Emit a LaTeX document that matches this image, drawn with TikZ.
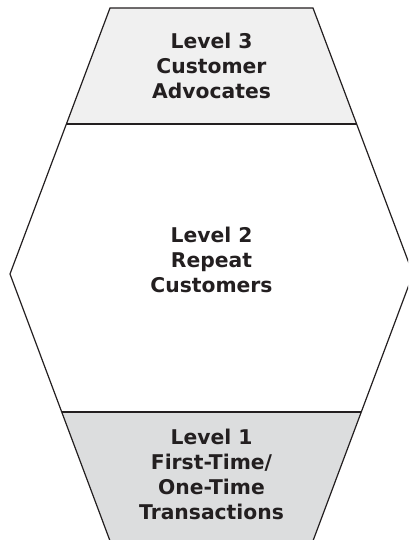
\documentclass[tikz,border=0pt]{standalone}
\usepackage{fontspec}
\setmainfont{DejaVu Sans}
\definecolor{lineblack}{HTML}{231F20}
\definecolor{topfill}{HTML}{F0F0F0}
\definecolor{botfill}{HTML}{DCDDDE}
\begin{document}
\begin{tikzpicture}[x=1pt,y=-1pt,
  edge/.style={draw=lineblack,line width=1.2pt,line join=miter},
  label/.style={align=center,font=\fontsize{20.3}{25}\selectfont\bfseries,text=lineblack,inner sep=0pt}]
\useasboundingbox (0,0) rectangle (408,540);
\clip (0,0) rectangle (408,540);
\coordinate (tl) at (110,8);
\coordinate (tr) at (313,8);
\coordinate (r) at (413,274);
\coordinate (br) at (313,540.8);
\coordinate (bl) at (110,540.8);
\coordinate (l) at (10,274);
\coordinate (l3l) at (66.4,124);
\coordinate (l3r) at (356.6,124);
\coordinate (l1l) at (61.9,412);
\coordinate (l1r) at (361.1,412);
\fill[topfill] (tl) -- (tr) -- (l3r) -- (l3l) -- cycle;
\fill[botfill] (l1l) -- (l1r) -- (br) -- (bl) -- cycle;
\draw[edge] (tl) -- (tr) -- (r) -- (br) -- (bl) -- (l) -- cycle;
\draw[edge] (l3l) -- (l3r);
\draw[edge] (l1l) -- (l1r);
\node[label] (n3) at (211.5,65.5) {Level 3\\Customer\\Advocates};
\node[label] (n2) at (211.5,260) {Level 2\\Repeat\\Customers};
\node[label] (n1) at (211.5,474) {Level 1\\First-Time/\\One-Time\\Transactions};
\end{tikzpicture}
\end{document}
